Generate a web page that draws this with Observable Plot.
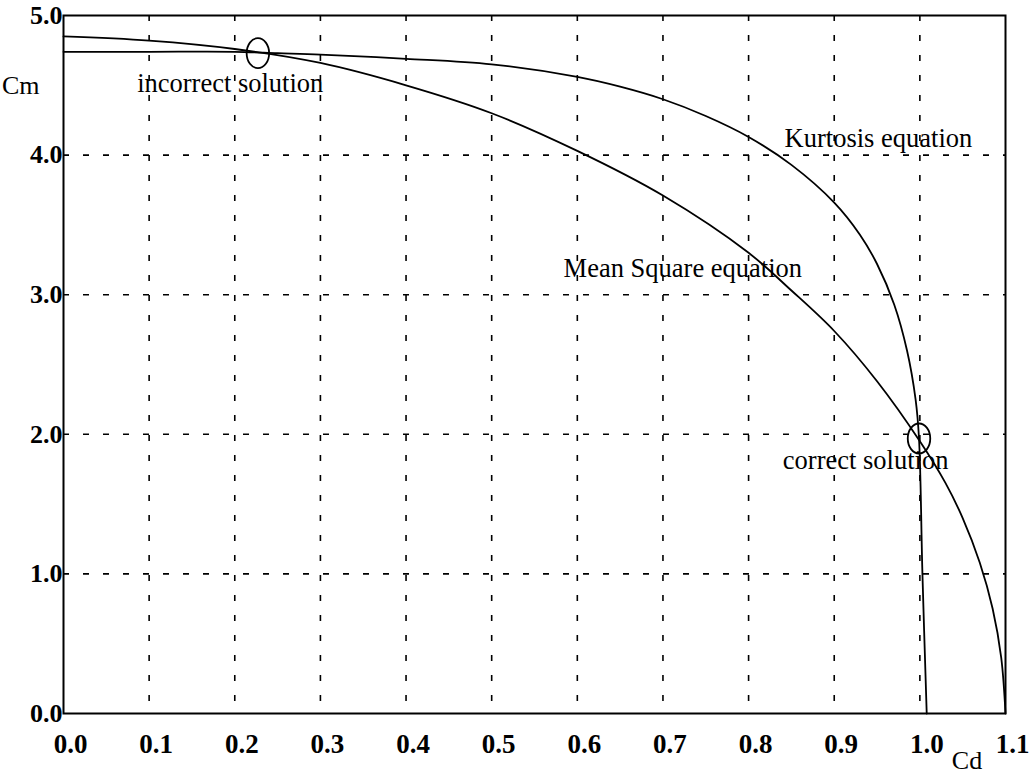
<!DOCTYPE html>
<html>
<head>
<meta charset="utf-8">
<script src="https://cdn.jsdelivr.net/npm/d3@7"></script>
<script src="https://cdn.jsdelivr.net/npm/@observablehq/plot@0.6"></script>
<style>
  html, body { margin: 0; padding: 0; background: #fff; }
  #chart svg { display: block; }
</style>
</head>
<body>
<div id="chart"></div>
<script>
// Kurtosis equation: Cm as a function of Cd
const kurtCd = [0, 0.1, 0.2, 0.25, 0.3, 0.4, 0.5, 0.6, 0.65, 0.7, 0.75, 0.8, 0.85, 0.9, 0.93, 0.95, 0.97, 0.985, 0.995, 0.999, 1.003, 1.008];
const kurtCm = [4.74, 4.74, 4.74, 4.73, 4.72, 4.69, 4.65, 4.56, 4.49, 4.40, 4.28, 4.13, 3.93, 3.66, 3.43, 3.22, 2.93, 2.60, 2.25, 1.97, 1.0, 0.0];

// Mean Square equation: Cm as a function of Cd
const msCd = [0, 0.1, 0.2, 0.3, 0.4, 0.5, 0.6, 0.7, 0.8, 0.85, 0.9, 0.95, 1.0, 1.03, 1.05, 1.07, 1.085, 1.095, 1.1];
const msCm = [4.85, 4.82, 4.76, 4.66, 4.50, 4.30, 4.03, 3.71, 3.30, 3.03, 2.74, 2.38, 1.95, 1.65, 1.40, 1.08, 0.75, 0.40, 0.0];

// Intersections of the two curves
const solCd = [0.227, 0.999];
const solCm = [4.73, 1.97];

// Annotation texts and where they sit
const noteText = ["incorrect solution", "Kurtosis equation", "Mean Square equation", "correct solution"];
const noteCd = [0.086, 0.842, 0.584, 0.840];
const noteCm = [4.51, 4.12, 3.19, 1.81];

// Axis titles
const axisText = ["Cm", "Cd"];
const axisCd = [-0.05, 1.055];
const axisCm = [4.5, -0.34];

// Ticks and grid
const xTicks = [0, 0.1, 0.2, 0.3, 0.4, 0.5, 0.6, 0.7, 0.8, 0.9, 1.0, 1.1];
const yTicks = [0, 1, 2, 3, 4, 5];
const gridCd = [0.1, 0.2, 0.3, 0.4, 0.5, 0.6, 0.7, 0.8, 0.9, 1.0];
const gridCm = [1, 2, 3, 4];

const kurt = kurtCd.map((cd, i) => ({cd, cm: kurtCm[i]}));
const ms = msCd.map((cd, i) => ({cd, cm: msCm[i]}));
const sols = solCd.map((cd, i) => ({cd, cm: solCm[i]}));
const notes = noteText.map((t, i) => ({t, cd: noteCd[i], cm: noteCm[i]}));
const axes = axisText.map((t, i) => ({t, cd: axisCd[i], cm: axisCm[i]}));

// Upright ellipse symbol (taller than wide)
const ellipse = {
  draw(context, size) {
    const ry = Math.sqrt(size / Math.PI), rx = ry * 0.75, k = 0.5523;
    context.moveTo(rx, 0);
    context.bezierCurveTo(rx, k * ry, k * rx, ry, 0, ry);
    context.bezierCurveTo(-k * rx, ry, -rx, k * ry, -rx, 0);
    context.bezierCurveTo(-rx, -k * ry, -k * rx, -ry, 0, -ry);
    context.bezierCurveTo(k * rx, -ry, rx, -k * ry, rx, 0);
    context.closePath();
  }
};

const dash = {stroke: "black", strokeOpacity: 1, strokeWidth: 1.6, strokeDasharray: "6,14"};

const chart = Plot.plot({
  width: 1036,
  height: 774,
  marginTop: 15,
  marginRight: 31,
  marginBottom: 61,
  marginLeft: 63,
  x: {domain: [0, 1.1]},
  y: {domain: [0, 5]},
  style: {fontFamily: "'Liberation Serif', 'Times New Roman', serif", fontSize: "26px", color: "black", background: "white"},
  marks: [
    Plot.gridX({ticks: gridCd, ...dash}),
    Plot.gridY({ticks: gridCm, ...dash}),
    Plot.line(kurt, {x: "cd", y: "cm", stroke: "black", strokeWidth: 1.8, curve: "catmull-rom"}),
    Plot.line(ms, {x: "cd", y: "cm", stroke: "black", strokeWidth: 1.8, curve: "catmull-rom"}),
    Plot.dot(sols, {x: "cd", y: "cm", r: 15, symbol: ellipse, fill: "none", stroke: "black", strokeWidth: 1.8}),
    Plot.text(notes, {x: "cd", y: "cm", text: "t", textAnchor: "start", fontSize: 26.5}),
    Plot.text(axes, {x: "cd", y: "cm", text: "t", fontSize: 26}),
    Plot.axisX({ticks: xTicks, tickSize: 0, tickPadding: 20, tickFormat: d3.format(".1f"), label: null, fontSize: 27, fontWeight: "bold", dx: 7}),
    Plot.axisY({ticks: yTicks, tickSize: 0, tickPadding: 1, tickFormat: d3.format(".1f"), label: null, fontSize: 26, fontWeight: "bold"}),
    Plot.frame({stroke: "black", strokeWidth: 2})
  ]
});

document.getElementById("chart").appendChild(chart);
</script>
</body>
</html>
